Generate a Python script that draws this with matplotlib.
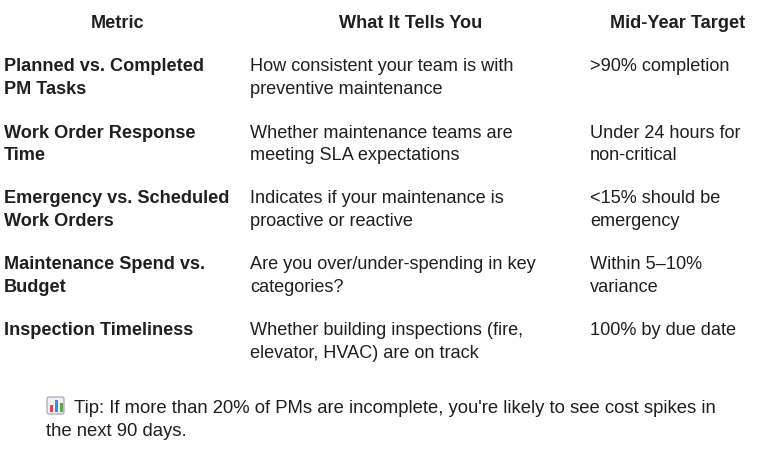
import matplotlib
matplotlib.use("Agg")
import matplotlib.pyplot as plt
from matplotlib.patches import Rectangle, FancyBboxPatch

headers = ["Metric", "What It Tells You", "Mid-Year Target"]
metrics = [["Planned vs. Completed", "PM Tasks"],
           ["Work Order Response", "Time"],
           ["Emergency vs. Scheduled", "Work Orders"],
           ["Maintenance Spend vs.", "Budget"],
           ["Inspection Timeliness"]]
meanings = [["How consistent your team is with", "preventive maintenance"],
            ["Whether maintenance teams are", "meeting SLA expectations"],
            ["Indicates if your maintenance is", "proactive or reactive"],
            ["Are you over/under-spending in key", "categories?"],
            ["Whether building inspections (fire,", "elevator, HVAC) are on track"]]
targets = [[">90% completion"],
           ["Under 24 hours for", "non-critical"],
           ["<15% should be", "emergency"],
           ["Within 5\u201310%", "variance"],
           ["100% by due date"]]
tip_lines = ["Tip: If more than 20% of PMs are incomplete, you're likely to see cost spikes in",
             "the next 90 days."]

W, H = 764, 452
fig = plt.figure(figsize=(W/100, H/100), dpi=100)
fig.patch.set_facecolor("white")
FONT = "Liberation Sans"
FS = 13.1
COL = "#1f1f1f"

def T(x, y, s, ha="left", bold=False, fs=FS):
    fig.text(x/W, 1 - (y + 2)/H, s, ha=ha, va="center", fontsize=fs, family=FONT,
             fontweight="bold" if bold else "normal", color=COL)

for x, h in zip([118, 411, 678], headers):
    T(x, 22, h, ha="center", bold=True)

row_y = [65, 131, 197, 263, 329]
lh = 23
for y, m, w, t in zip(row_y, metrics, meanings, targets):
    for i, s in enumerate(m):
        T(4, y + i*lh, s, bold=True)
    for i, s in enumerate(w):
        T(250, y + i*lh, s)
    for i, s in enumerate(t):
        T(590, y + i*lh, s)

ax = fig.add_axes([0, 0, 1, 1]); ax.set_xlim(0, W); ax.set_ylim(H, 0); ax.axis("off")
ax.add_patch(FancyBboxPatch((47, 398), 17, 17, boxstyle="round,pad=0,rounding_size=2",
                            fc="#eef0f3", ec="#9aa3ad", lw=0.8))
for bx, bh, c in [(50, 7, "#e0445a"), (55, 12, "#3c8de0"), (60, 9, "#5aa55a")]:
    ax.add_patch(Rectangle((bx, 413 - bh), 3, bh, fc=c, ec="none"))
T(74, 407, tip_lines[0], fs=13.3)
T(46, 430, tip_lines[1], fs=13.3)

fig.savefig("out.png", dpi=100)
